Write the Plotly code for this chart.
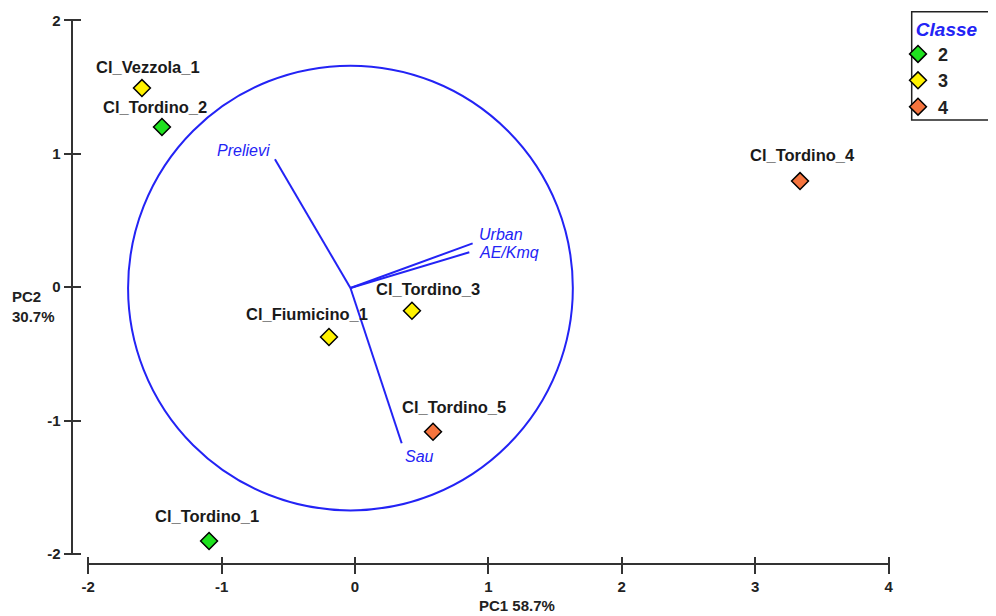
import plotly.graph_objects as go

# ---------------- data ----------------
site_names = ["Cl_Vezzola_1", "Cl_Tordino_2", "Cl_Tordino_4", "Cl_Tordino_3",
              "Cl_Fiumicino_1", "Cl_Tordino_5", "Cl_Tordino_1"]
pc1 = [-1.597, -1.447, 3.336, 0.427, -0.195, 0.585, -1.094]
pc2 = [1.492, 1.200, 0.795, -0.177, -0.374, -1.084, -1.903]
site_class = ["3", "2", "4", "3", "3", "4", "2"]
class_order = ["2", "3", "4"]

var_names = ["Prelievi", "Urban", "AE/Kmq", "Sau"]
var_x = [-0.600, 0.882, 0.857, 0.350]
var_y = [0.958, 0.328, 0.261, -1.171]
vec_origin = [-0.034, -0.007]
circle_radius = 1.667

x_ticks = [-2, -1, 0, 1, 2, 3, 4]
x_tick_labels = ["-2", "-1", "0", "1", "2", "3", "4"]
y_ticks = [-2, -1, 0, 1, 2]
y_tick_labels = ["-2", "-1", "0", "1", "2"]
x_title = "PC1 58.7%"
y_title = "PC2<br>30.7%"
legend_title = "Classe"

# ---------------- style ----------------
class_colors = {"2": "#1FE21F", "3": "#FFF200", "4": "#F5743E"}
blue = "#2323F5"
axis_col = "#333333"
FONT = "Liberation Sans, Arial, sans-serif"
label_dx = [6, -7, 2, 16, -22, 21, -2]
label_dy = [21, 20, 26, 22, 23, 25, 25]
vec_anchor = ["right", "left", "left", "left"]
vec_dx = [-3, 4, 8, 1]
vec_dy = [9, 9, 0, -13]

# the page body has an 8px margin: figure spans screen pixels 8..996
OFF = 8
W, H = 996 - OFF, 616 - OFF
ML, MT = 72 - OFF, 8 - OFF
plot_w, plot_h = 833, 556
MR = W - ML - plot_w
MB = H - MT - plot_h
scale = 133.4
x0 = -2.1214
y0 = -2.0757


def sx(px):  # screen x pixel -> paper x
    return (px - OFF - ML) / plot_w


def sy(py):  # screen y pixel -> paper y
    return 1 - (py - OFF - MT) / plot_h


fig = go.Figure()

# vectors
for name, vx, vy in zip(var_names, var_x, var_y):
    fig.add_trace(go.Scatter(x=[vec_origin[0], vx], y=[vec_origin[1], vy], mode="lines",
                             line=dict(color=blue, width=2), showlegend=False,
                             hoverinfo="skip"))

# points per class
for c in class_order:
    xs = [x for x, k in zip(pc1, site_class) if k == c]
    ys = [y for y, k in zip(pc2, site_class) if k == c]
    fig.add_trace(go.Scatter(x=xs, y=ys, mode="markers", name=c,
                             marker=dict(symbol="diamond", size=13, color=class_colors[c],
                                         line=dict(color="black", width=1.5))))

annotations = []
for n, x, y, dx, dy in zip(site_names, pc1, pc2, label_dx, label_dy):
    annotations.append(dict(x=x, y=y, text=n, showarrow=False, xshift=dx, yshift=dy,
                            font=dict(family=FONT, size=16.5, color="#1a1a1a", weight="bold")))
for n, x, y, a, dx, dy in zip(var_names, var_x, var_y, vec_anchor, vec_dx, vec_dy):
    annotations.append(dict(x=x, y=y, text=n, showarrow=False, xanchor=a, xshift=dx, yshift=dy,
                            font=dict(family=FONT, size=16, color=blue, style="italic")))
annotations.append(dict(xref="paper", yref="paper", x=sx(517), y=sy(605), text=x_title,
                        xanchor="center", yanchor="middle", showarrow=False,
                        font=dict(family=FONT, size=15, color="#222", weight="bold")))
annotations.append(dict(xref="paper", yref="paper", x=sx(10), xanchor="left",
                        y=sy(306), yanchor="middle", text=y_title, showarrow=False,
                        align="left",
                        font=dict(family=FONT, size=15, color="#222", weight="bold")))

shapes = [
    dict(type="line", xref="x", yref="paper", x0=x_ticks[0], x1=x_ticks[-1], y0=0, y1=0,
         line=dict(color=axis_col, width=2)),
    dict(type="line", xref="paper", yref="y", x0=0, x1=0, y0=y_ticks[0], y1=y_ticks[-1],
         line=dict(color=axis_col, width=2)),
    dict(type="circle", xref="x", yref="y",
         x0=vec_origin[0] - circle_radius, x1=vec_origin[0] + circle_radius,
         y0=vec_origin[1] - circle_radius, y1=vec_origin[1] + circle_radius,
         line=dict(color=blue, width=2)),
    dict(type="rect", xref="paper", yref="paper",
         x0=sx(911.7), x1=sx(999), y0=sy(120), y1=sy(11.7),
         line=dict(color="#222", width=1.5)),
]

fig.update_layout(
    width=W, height=H, margin=dict(l=ML, r=MR, t=MT, b=MB, autoexpand=False),
    plot_bgcolor="white", paper_bgcolor="white",
    font=dict(family=FONT),
    xaxis=dict(range=[x0, x0 + plot_w / scale], anchor="free", position=8 / plot_h,
               automargin=False,
               tickvals=x_ticks, ticktext=x_tick_labels, ticks="outside", ticklen=17,
               tickwidth=2, tickcolor=axis_col,
               showline=False, showgrid=False, zeroline=False,
               tickfont=dict(family=FONT, size=15, color="#222", weight="bold")),
    yaxis=dict(range=[y0, y0 + plot_h / scale], anchor="free", position=8.5 / plot_w,
               automargin=False,
               tickvals=y_ticks, ticktext=y_tick_labels, ticks="outside", ticklen=17,
               tickwidth=2, tickcolor=axis_col,
               showline=False, showgrid=False, zeroline=False,
               tickfont=dict(family=FONT, size=15, color="#222", weight="bold")),
    showlegend=True,
    legend=dict(xref="container", yref="container", x=(898 - OFF) / W, y=1 - (11 - OFF) / H,
                xanchor="left", yanchor="top", bgcolor="rgba(0,0,0,0)", borderwidth=0,
                font=dict(family=FONT, size=18, color="#222", weight="bold"),
                title=dict(text="&nbsp;&nbsp;&nbsp;" + legend_title,
                           font=dict(family=FONT, size=19, color=blue, weight="bold",
                                     style="italic"))),
    annotations=annotations, shapes=shapes,
)

fig.write_html("out.html")
